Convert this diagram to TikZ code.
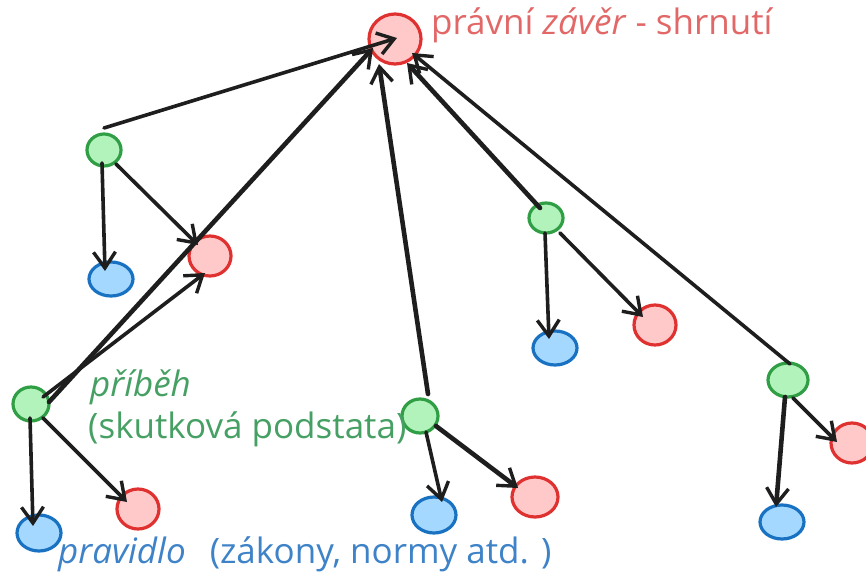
\documentclass[tikz,border=0pt]{standalone}
\usepackage{fontspec}
\setmainfont{Open Sans}
\usetikzlibrary{shapes.geometric,arrows.meta,calc}
\definecolor{rfill}{HTML}{FFC9C9}
\definecolor{rdraw}{HTML}{E03131}
\definecolor{gfill}{HTML}{B2F2BB}
\definecolor{gdraw}{HTML}{2F9E44}
\definecolor{bfill}{HTML}{A5D8FF}
\definecolor{bdraw}{HTML}{1971C2}
\definecolor{rtext}{RGB}{226,104,104}
\definecolor{gtext}{RGB}{70,160,100}
\definecolor{btext}{RGB}{62,130,200}
\definecolor{ink}{HTML}{1E1E1E}
\tikzset{
  blob/.style={ellipse,inner sep=0pt,line width=3.2pt},
  rnode/.style={blob,fill=rfill,draw=rdraw},
  gnode/.style={blob,fill=gfill,draw=gdraw},
  bnode/.style={blob,fill=bfill,draw=bdraw},
  arr/.style={draw=ink,line width=3.6pt,line cap=round,-{Straight Barb[length=16pt,width=22pt,line width=3.4pt]}},
  thick arr/.style={arr,line width=4.6pt},
  lbl/.style={anchor=base west,inner sep=0pt,font=\fontsize{35}{40}\selectfont},
}
\begin{document}
\begin{tikzpicture}[x=1pt,y=-1pt]
\useasboundingbox (0,0) rectangle (866,572);
% nodes
\node[rnode,minimum width=52pt,minimum height=50pt] (top) at (395,39) {};
\node[gnode,minimum width=34pt,minimum height=32pt] (g1) at (104,150) {};
\node[bnode,minimum width=44pt,minimum height=34pt] (b1) at (111,279) {};
\node[rnode,minimum width=42pt,minimum height=40pt] (r1) at (210,256) {};
\node[gnode,minimum width=36pt,minimum height=34pt] (g2) at (31,404) {};
\node[bnode,minimum width=44pt,minimum height=36pt] (b2) at (39,533) {};
\node[rnode,minimum width=42pt,minimum height=40pt] (r2) at (138,509) {};
\node[gnode,minimum width=36pt,minimum height=34pt] (g3) at (420,416) {};
\node[bnode,minimum width=44pt,minimum height=36pt] (b3) at (434,515) {};
\node[rnode,minimum width=46pt,minimum height=40pt] (r3) at (535,497) {};
\node[gnode,minimum width=34pt,minimum height=30pt] (g4) at (546,218) {};
\node[bnode,minimum width=44pt,minimum height=34pt] (b4) at (555,348) {};
\node[rnode,minimum width=42pt,minimum height=40pt] (r4) at (655,325) {};
\node[gnode,minimum width=40pt,minimum height=34pt] (g5) at (788,380) {};
\node[bnode,minimum width=44pt,minimum height=34pt] (b5) at (782,522) {};
\node[rnode,minimum width=42pt,minimum height=40pt] (r5) at (852,443) {};
% labels
\node[lbl,text=rtext] (ttop) at (431,35) {právní \textit{závěr} - shrnutí};
\node[lbl,text=gtext] (tg1) at (90,396) {\textit{příběh}};
\node[lbl,text=gtext] (tg2) at (88,438) {(skutková podstata)};
\node[lbl,text=btext] (tb) at (58,563) {\textit{pravidlo}\ \ \,(zákony, normy atd. )};
% connectors
\draw[arr] ($(g1)+(0,-22)$) -- ($(top)+(2,-1)$);
\draw[arr] ($(g1)+(-2,13)$) -- ($(b1)+(-6,-8)$);
\draw[arr] ($(g1)+(12,14)$) -- ($(r1)+(-12,-11)$);
\draw[thick arr] ($(g2)+(18,-2)$) -- ($(top)+(-22,9)$);
\draw[arr] ($(g2)+(12,-7)$) -- ($(r1)+(-5,17)$);
\draw[arr] ($(g2)+(-1,14)$) -- ($(b2)+(-6,-7)$);
\draw[arr] ($(g2)+(12,14)$) -- ($(r2)+(-11,-7)$);
\draw[thick arr] ($(g3)+(8,-22)$) -- ($(top)+(-16,25)$);
\draw[arr] ($(g3)+(6,16)$) -- ($(b3)+(8,-13)$);
\draw[thick arr] ($(g3)+(16,10)$) -- ($(r3)+(-17,-9)$);
\draw[thick arr] ($(g4)+(-6,-10)$) -- ($(top)+(12,24)$);
\draw[arr] ($(g5)+(2,-16)$) -- ($(top)+(17,14)$);
\draw[arr] ($(g4)+(-1,15)$) -- ($(b4)+(-6,-9)$);
\draw[arr] ($(g4)+(14,15)$) -- ($(r4)+(-12,-8)$);
\draw[thick arr] ($(g5)+(-3,17)$) -- ($(b5)+(-6,-15)$);
\draw[arr] ($(g5)+(5,18)$) -- ($(r5)+(-15,-1)$);
\end{tikzpicture}
\end{document}
